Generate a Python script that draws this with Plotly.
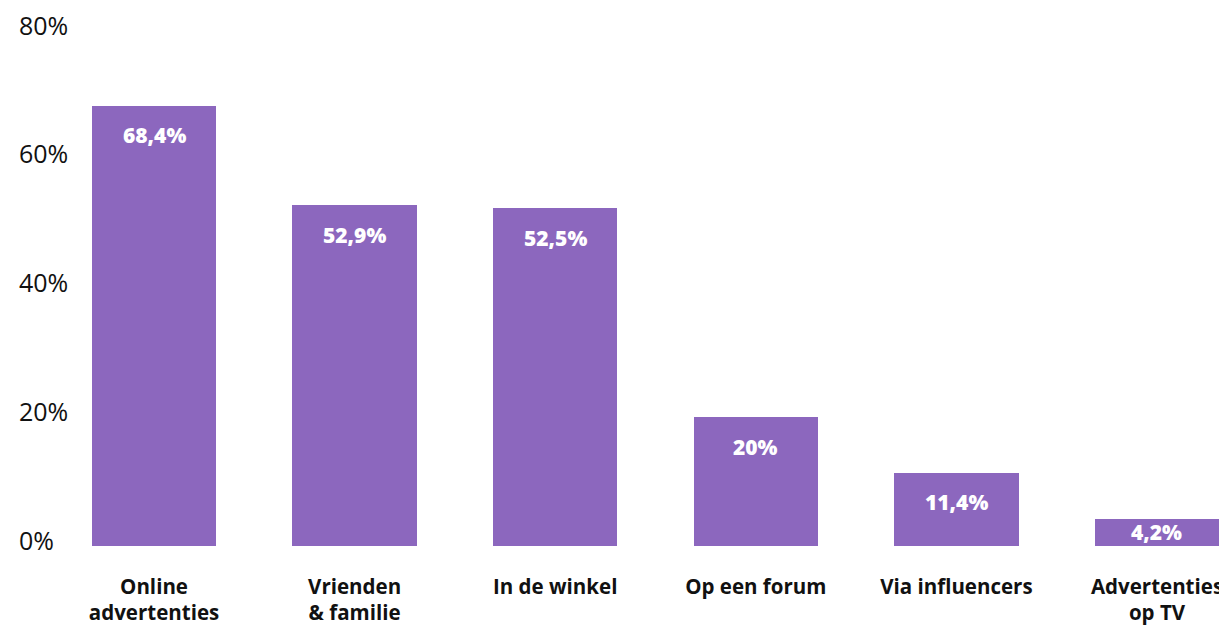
import plotly.graph_objects as go

categories = ["Online<br>advertenties", "Vrienden<br>& familie", "In de winkel",
              "Op een forum", "Via influencers", "Advertenties<br>op TV"]
values = [68.4, 52.9, 52.5, 20, 11.4, 4.2]
value_labels = ["68,4%", "52,9%", "52,5%", "20%", "11,4%", "4,2%"]
y_ticks = [0, 20, 40, 60, 80]
y_tick_text = ["0%", "20%", "40%", "60%", "80%"]

BAR = "#8C67BE"
FONT = "Open Sans"

fig = go.Figure()
fig.add_trace(go.Bar(
    x=list(range(len(categories))), y=values, width=0.62,
    marker=dict(color=BAR, line=dict(width=0)),
    hoverinfo="skip",
))

for i, (v, t) in enumerate(zip(values, value_labels)):
    fig.add_annotation(
        x=i, y=max(v - 4.6, v / 2), text=t, showarrow=False,
        xanchor="center", yanchor="middle",
        font=dict(family=FONT, size=21, color="white", weight=800),
    )

fig.update_layout(
    width=1219, height=618,
    margin=dict(l=6, r=0, t=6, b=78.5),
    paper_bgcolor="white", plot_bgcolor="white",
    showlegend=False,
    bargap=0,
    font=dict(family=FONT),
    xaxis=dict(
        range=[-0.698, 5.349],
        tickvals=list(range(len(categories))),
        ticktext=categories,
        tickfont=dict(family=FONT, size=20.5, color="#111111", weight=700),
        showgrid=False, zeroline=False, showline=False, ticks="",
        ticklabelstandoff=26,
    ),
    yaxis=dict(
        range=[0, 81.7], tickvals=y_ticks, ticktext=y_tick_text,
        tickfont=dict(family=FONT, size=25, color="#111111"),
        showgrid=False, zeroline=False, showline=False, ticks="",
        side="right", anchor="free", position=0,
        ticklabelshift=-5, ticklabelstandoff=4,
        ticklabeloverflow="allow",
    ),
)

fig.write_html("out.html")
